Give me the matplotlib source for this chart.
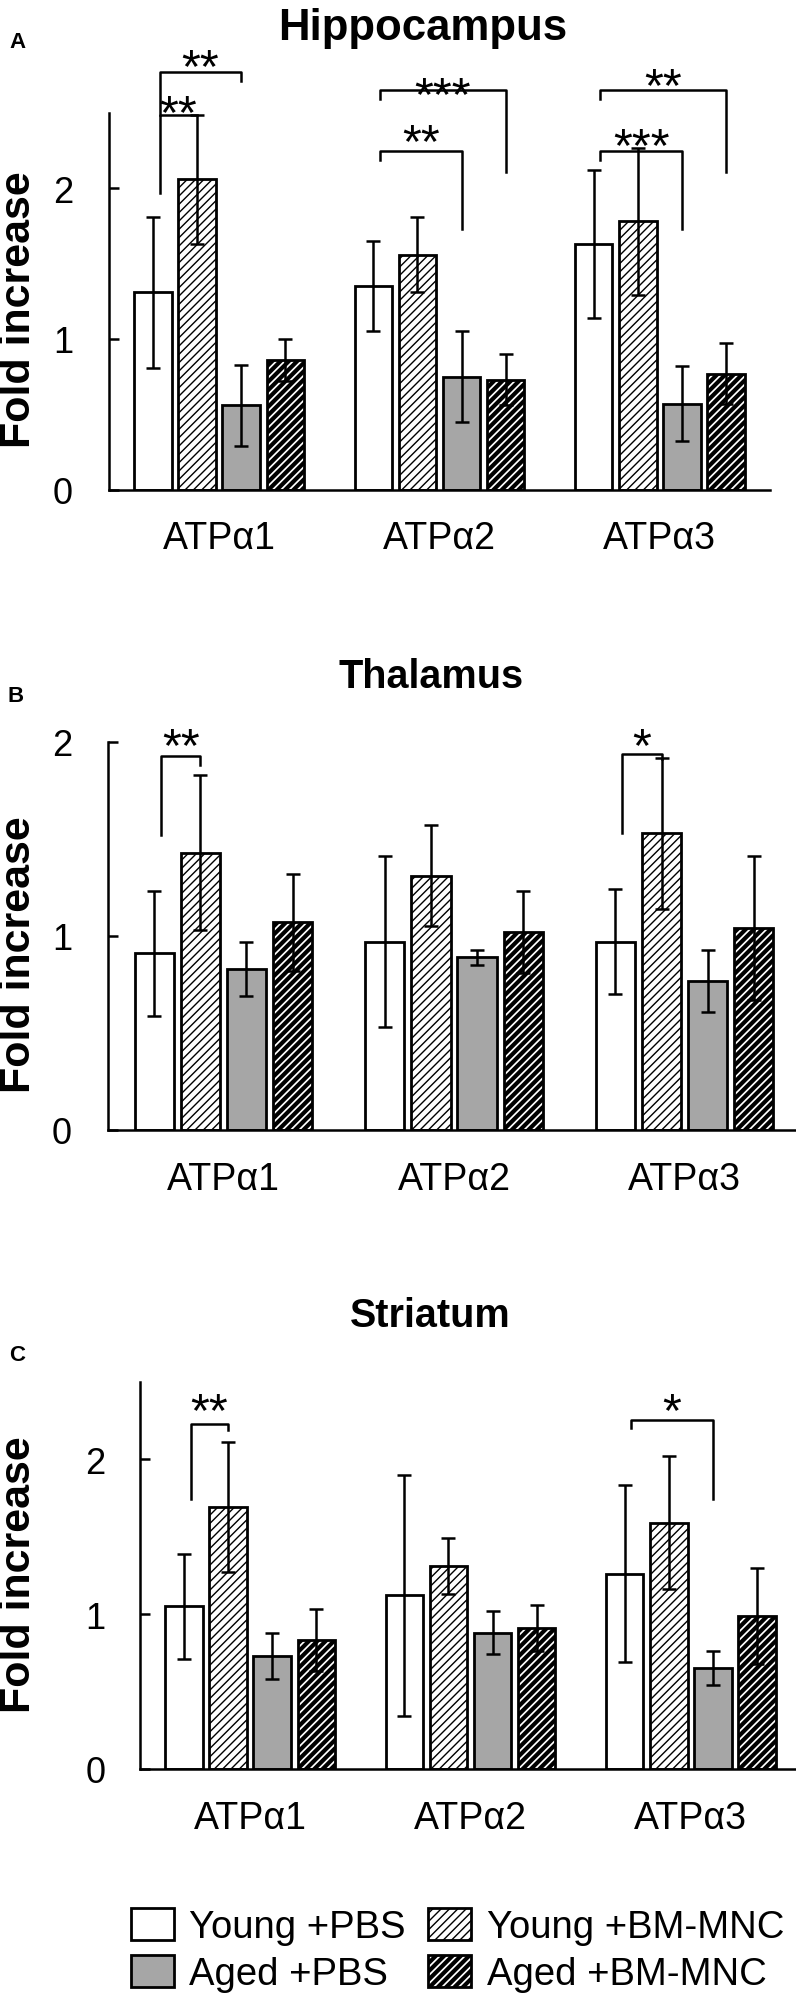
import matplotlib
matplotlib.use("Agg")
import matplotlib.pyplot as plt
import matplotlib.patches as mpatches
import numpy as np

plt.rcParams['font.family'] = ['Liberation Sans', 'DejaVu Sans']

genes = ['ATPα1', 'ATPα2', 'ATPα3']
groups = ['Young +PBS', 'Young +BM-MNC', 'Aged +PBS', 'Aged +BM-MNC']

# Hippocampus (mean, error)
hip_young_pbs = [1.31, 1.35, 1.63]
hip_young_bm = [2.06, 1.56, 1.78]
hip_aged_pbs = [0.56, 0.75, 0.57]
hip_aged_bm = [0.86, 0.73, 0.77]
hip_young_pbs_err = [0.50, 0.30, 0.49]
hip_young_bm_err = [0.43, 0.25, 0.49]
hip_aged_pbs_err = [0.27, 0.30, 0.25]
hip_aged_bm_err = [0.14, 0.17, 0.20]

# Thalamus
tha_young_pbs = [0.91, 0.97, 0.97]
tha_young_bm = [1.43, 1.31, 1.53]
tha_aged_pbs = [0.83, 0.89, 0.77]
tha_aged_bm = [1.07, 1.02, 1.04]
tha_young_pbs_err = [0.32, 0.44, 0.27]
tha_young_bm_err = [0.40, 0.26, 0.39]
tha_aged_pbs_err = [0.14, 0.04, 0.16]
tha_aged_bm_err = [0.25, 0.21, 0.37]

# Striatum
str_young_pbs = [1.05, 1.12, 1.26]
str_young_bm = [1.69, 1.31, 1.59]
str_aged_pbs = [0.73, 0.88, 0.65]
str_aged_bm = [0.83, 0.91, 0.99]
str_young_pbs_err = [0.34, 0.78, 0.57]
str_young_bm_err = [0.42, 0.18, 0.43]
str_aged_pbs_err = [0.15, 0.14, 0.11]
str_aged_bm_err = [0.20, 0.15, 0.31]

# significance brackets: (gene, bar a, bar b, top, left end, right end, stars, star height)
hip_sig = [(0, 0, 1, 2.49, 1.97, 2.49, '**', 2.59),
           (0, 0, 2, 2.77, 2.49, 2.71, '**', 2.90),
           (1, 0, 2, 2.25, 2.19, 1.73, '**', 2.40),
           (1, 0, 3, 2.65, 2.59, 2.11, '***', 2.71),
           (2, 0, 2, 2.25, 2.19, 1.73, '***', 2.37),
           (2, 0, 3, 2.65, 2.59, 2.11, '**', 2.77)]
tha_sig = [(0, 0, 1, 1.93, 1.52, 1.88, '**', 2.05),
           (2, 0, 1, 1.94, 1.53, 1.91, '*', 2.05)]
str_sig = [(0, 0, 1, 2.23, 1.74, 2.19, '**', 2.40),
           (2, 0, 2, 2.25, 2.20, 1.74, '*', 2.40)]

W, H = 796, 1999
fig = plt.figure(figsize=(W / 100, H / 100), dpi=100)

# bar looks: face, hatch, hatch line width
looks = [('white', None, 1.0), ('white', '////', 1.0),
         ('#a6a6a6', None, 1.0), ('white', '////', 3.0)]
step, width = 0.2, 0.17


def add_axes_px(left, top, right, bottom):
    return fig.add_axes([left / W, 1 - bottom / H, (right - left) / W, (bottom - top) / H])


def draw_panel(ax, means, errs, ymax, sig, ylabel_pad):
    x = np.arange(len(genes))
    for k, (m, e) in enumerate(zip(means, errs)):
        face, hatch, hlw = looks[k]
        pos = x + (k - 1.5) * step
        with plt.rc_context({'hatch.linewidth': hlw}):
            ax.bar(pos, m, width, color=face, edgecolor='black', linewidth=2.0,
                   hatch=hatch, zorder=2)
        ax.errorbar(pos, m, yerr=e, fmt='none', ecolor='black', elinewidth=1.8,
                    capsize=4.7, capthick=1.8, zorder=3)

    for g, a, b, top, ya, yb, stars, sy in sig:
        xa = g + (a - 1.5) * step + 0.03
        xb = g + (b - 1.5) * step
        ax.plot([xa, xa, xb, xb], [ya, top, top, yb], color='black', lw=1.8,
                clip_on=False, zorder=4)
        ax.annotate(stars, ((xa + xb) / 2, sy), xytext=(0, -20),
                    textcoords='offset points', ha='center', va='baseline',
                    fontsize=35, annotation_clip=False)

    ax.set_xlim(-0.5, 2.5)
    ax.set_ylim(0, ymax)
    ax.set_yticks([0, 1, 2])
    ax.set_xticks(x)
    ax.set_xticklabels(genes)
    for side in ['top', 'right']:
        ax.spines[side].set_visible(False)
    for side in ['left', 'bottom']:
        ax.spines[side].set_linewidth(1.8)
    ax.tick_params(axis='y', direction='in', length=7, width=1.8, pad=ylabel_pad,
                   labelsize=26)
    ax.tick_params(axis='x', length=0, pad=22, labelsize=27)


ax_a = add_axes_px(109, 114, 770, 490.5)
draw_panel(ax_a, [hip_young_pbs, hip_young_bm, hip_aged_pbs, hip_aged_bm],
           [hip_young_pbs_err, hip_young_bm_err, hip_aged_pbs_err, hip_aged_bm_err],
           2.5, hip_sig, 26)

ax_b = add_axes_px(108, 743, 800, 1131)
draw_panel(ax_b, [tha_young_pbs, tha_young_bm, tha_aged_pbs, tha_aged_bm],
           [tha_young_pbs_err, tha_young_bm_err, tha_aged_pbs_err, tha_aged_bm_err],
           2.0, tha_sig, 26)

ax_c = add_axes_px(140, 1382.7, 801, 1770)
draw_panel(ax_c, [str_young_pbs, str_young_bm, str_aged_pbs, str_aged_bm],
           [str_young_pbs_err, str_young_bm_err, str_aged_pbs_err, str_aged_bm_err],
           2.5, str_sig, 25)

# titles, panel letters, y labels
for txt, cx, base, size in [('Hippocampus', 423, 40, 31.5),
                            ('Thalamus', 431, 688, 28.5),
                            ('Striatum', 430, 1327, 28.5)]:
    fig.text(cx / W, 1 - base / H, txt, ha='center', va='baseline',
             fontsize=size, weight='bold')
for txt, cx, cy in [('A', 17, 43), ('B', 16, 697), ('C', 17, 1356)]:
    fig.text(cx / W, 1 - cy / H, txt, ha='center', va='center', fontsize=16,
             weight='bold')
for cy in [310, 955, 1575]:
    fig.text(19 / W, 1 - cy / H, 'Fold increase', rotation=90, ha='center',
             va='center', fontsize=31, weight='bold')

handles = []
for face, hatch, hlw in looks:
    with plt.rc_context({'hatch.linewidth': hlw}):
        handles.append(mpatches.Patch(facecolor=face, edgecolor='black',
                                      hatch=hatch, linewidth=2.0))
# two columns filled top to bottom: Young/Aged +PBS, then Young/Aged +BM-MNC
order = [0, 2, 1, 3]
leg = fig.legend([handles[i] for i in order], [groups[i] for i in order],
                 loc='upper left', bbox_to_anchor=(131 / W, 1 - 1909 / H),
                 ncol=2, frameon=False, fontsize=27.5, handlelength=1.12,
                 handleheight=0.92, handletextpad=0.4, columnspacing=0.6,
                 labelspacing=0.25, borderpad=0, borderaxespad=0)
for patch, i in zip(leg.get_patches(), order):
    hlw = looks[i][2]
    if hasattr(patch, 'set_hatch_linewidth'):
        patch.set_hatch_linewidth(hlw)
    else:
        patch._hatch_linewidth = hlw

fig.savefig('out.png', dpi=100)
